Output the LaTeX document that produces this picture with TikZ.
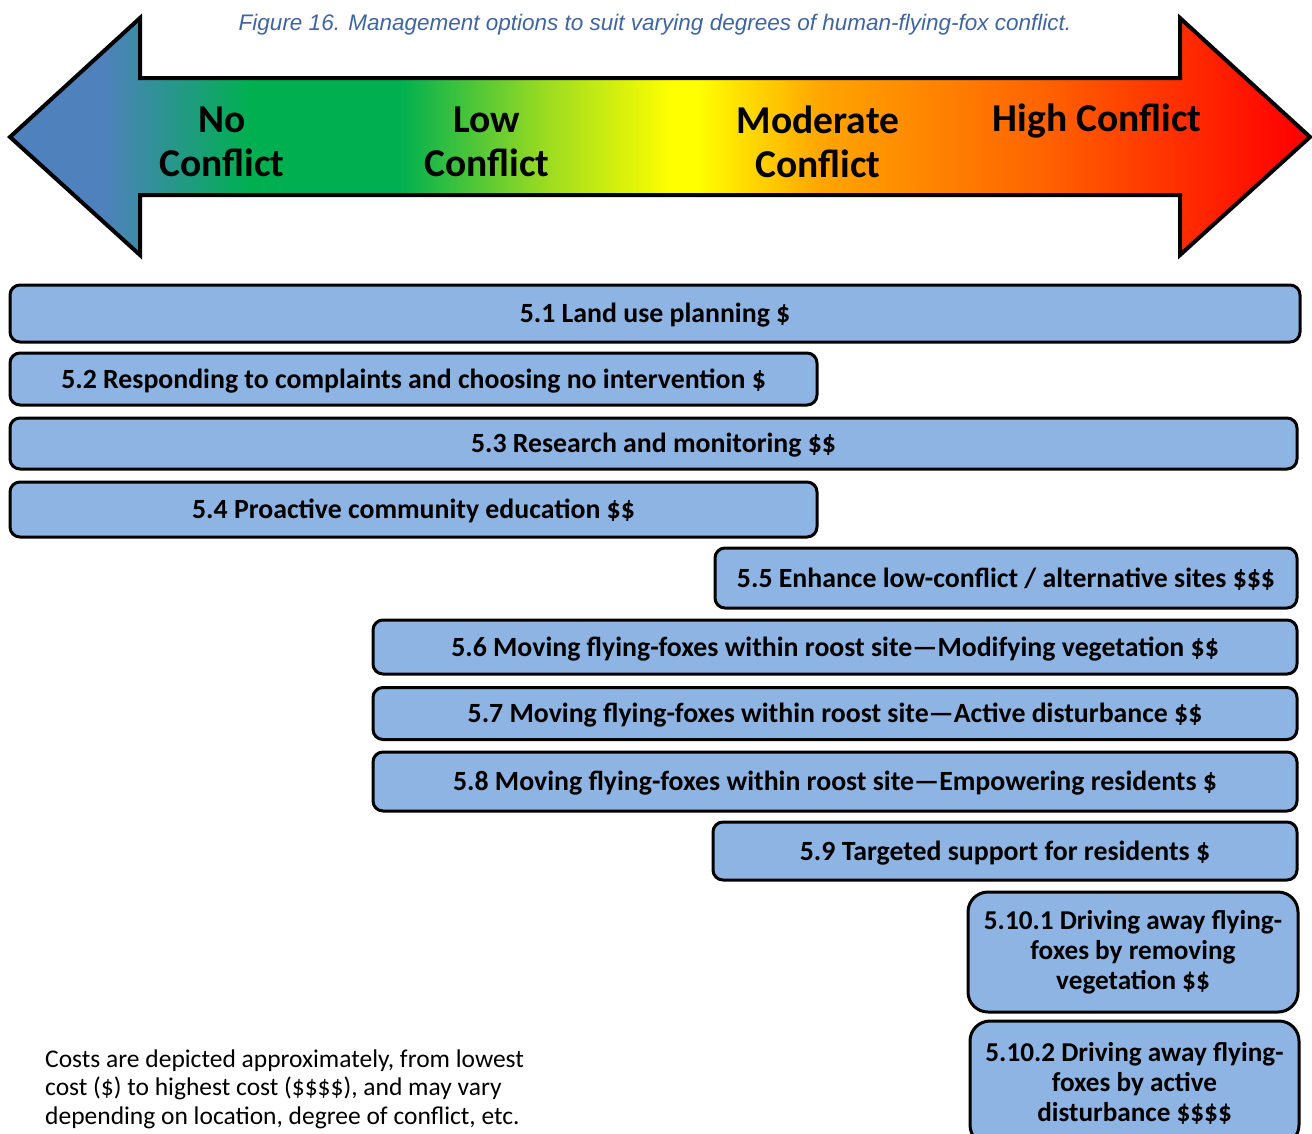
\documentclass[tikz,border=0pt]{standalone}
\usepackage{fontspec}
\setmainfont{Carlito}
\newfontfamily\arialfont{Liberation Sans}
\definecolor{boxblue}{RGB}{141,180,226}
\definecolor{titleblue}{RGB}{64,100,160}
\definecolor{sBlue}{RGB}{79,129,189}
\definecolor{sTeal}{RGB}{40,150,140}
\definecolor{sGreen}{RGB}{0,176,80}
\definecolor{sLime}{RGB}{150,218,35}
\definecolor{sYellow}{RGB}{255,255,0}
\definecolor{sOrange}{RGB}{255,165,0}
\definecolor{sDeep}{RGB}{255,100,0}
\definecolor{sRed}{RGB}{255,0,0}
\pgfdeclarehorizontalshading{conflict}{100bp}{color(0bp)=(sBlue); color(25bp)=(sBlue); color(28.6bp)=(sBlue); color(31.2bp)=(sTeal); color(34.2bp)=(sGreen); color(40bp)=(sGreen); color(45.4bp)=(sLime); color(50.4bp)=(sYellow); color(51.4bp)=(sYellow); color(56.2bp)=(sOrange); color(64.6bp)=(sDeep); color(74.6bp)=(sRed); color(75bp)=(sRed); color(100bp)=(sRed)}
\tikzset{
  optbox/.style={draw=black, line width=3pt, fill=boxblue, rounded corners=10pt, inner sep=0pt,
    font=\bfseries\fontsize{27.8}{30}\selectfont, align=center},
  onebox/.style={optbox, text height=24pt, text depth=6pt},
  tallbox/.style={optbox, rounded corners=20pt, font=\bfseries\fontsize{27.2}{30}\selectfont},
  arrlabel/.style={font=\bfseries\fontsize{39.5}{44}\selectfont, align=center, inner sep=0pt},
}
\begin{document}
\begin{tikzpicture}[x=1pt,y=-1pt]
\useasboundingbox (0,0) rectangle (1312,1133);
\clip (0,0) rectangle (1312,1133);
% title
\node[font=\arialfont\itshape\fontsize{22.5}{26}\selectfont, text=titleblue, inner sep=0pt] (title) at (655,25)
  {Figure 16. Management options to suit varying degrees of human-flying-fox conflict.};
% double arrow
\path[shading=conflict] (10,137) -- (140,18) -- (140,78) -- (1180,78) -- (1180,18) -- (1310,137)
  -- (1180,255) -- (1180,195) -- (140,195) -- (140,255) -- cycle;
\draw[line width=4pt, line join=miter] (10,137) -- (140,18) -- (140,78) -- (1180,78) -- (1180,18) -- (1310,137)
  -- (1180,255) -- (1180,195) -- (140,195) -- (140,255) -- cycle;
\node[arrlabel] (no) at (222,142) {No\\Conflict};
\node[arrlabel] (low) at (487,142) {Low\\Conflict};
\node[arrlabel] (mod) at (818,142) {Moderate\\Conflict};
\node[arrlabel] (high) at (1097,121) {High Conflict};
% option boxes
\node[onebox, minimum width=1290pt, minimum height=57pt] (b51) at (655,313.5) {5.1 Land use planning \$};
\node[onebox, minimum width=807pt, minimum height=52pt] (b52) at (413.5,379) {5.2 Responding to complaints and choosing no intervention \$};
\node[onebox, minimum width=1287pt, minimum height=51pt] (b53) at (653.5,443.5) {5.3 Research and monitoring \$\$};
\node[onebox, minimum width=807pt, minimum height=55pt] (b54) at (413.5,509.5) {5.4 Proactive community education \$\$};
\node[onebox, minimum width=582pt, minimum height=60pt] (b55) at (1006,578) {5.5 Enhance low-conflict / alternative sites \$\$\$};
\node[onebox, minimum width=924pt, minimum height=54pt] (b56) at (835,647) {5.6 Moving flying-foxes within roost site—Modifying vegetation \$\$};
\node[onebox, minimum width=924pt, minimum height=52pt] (b57) at (835,713.5) {5.7 Moving flying-foxes within roost site—Active disturbance \$\$};
\node[onebox, minimum width=924pt, minimum height=59pt] (b58) at (835,781.5) {5.8 Moving flying-foxes within roost site—Empowering residents \$};
\node[onebox, minimum width=584pt, minimum height=58pt] (b59) at (1005,851) {5.9 Targeted support for residents \$};
\node[tallbox, minimum width=330pt, minimum height=120pt] (b5101) at (1133,952)
  {5.10.1 Driving away flying-\\foxes by removing\\vegetation \$\$};
\node[tallbox, minimum width=329pt, minimum height=124pt] (b5102) at (1134.5,1083)
  {5.10.2 Driving away flying-\\foxes by active\\disturbance \$\$\$\$};
% footnote
\node[anchor=west, align=left, inner sep=0pt, font=\fontsize{25.5}{28.5}\selectfont] (note) at (45,1089)
  {Costs are depicted approximately, from lowest\\cost (\$) to highest cost (\$\$\$\$), and may vary\\depending on location, degree of conflict, etc.};
\end{tikzpicture}
\end{document}
